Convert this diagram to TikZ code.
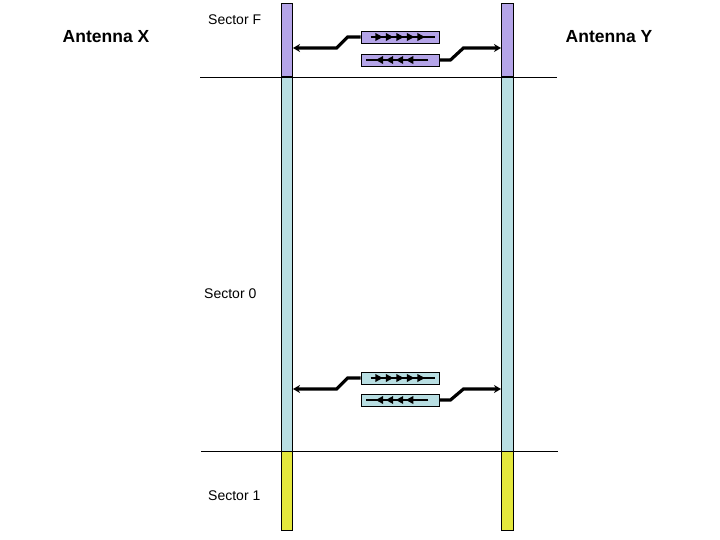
\documentclass[tikz,border=0pt]{standalone}
\usepackage{fontspec}
\setmainfont{Liberation Sans}
\usetikzlibrary{arrows.meta,decorations.markings}
\definecolor{purp}{RGB}{180,164,232}
\definecolor{lblue}{RGB}{184,222,226}
\definecolor{yel}{RGB}{228,232,60}
\tikzset{
  barseg/.style={draw=black,line width=1pt,inner sep=0pt,minimum width=11.5pt,rectangle},
  msgbox/.style={draw=black,line width=0.9pt,inner sep=0pt,minimum width=78pt,minimum height=12pt,rectangle},
  conn/.style={line width=3.2pt,-{Stealth[length=7pt,width=8pt]}},
  sepline/.style={line width=0.8pt},
  fwdline/.style={line width=1.8pt,postaction={decorate},decoration={markings,
     mark=between positions 0.19 and 1 step 0.162 with {\arrow{Triangle[length=7.5pt,width=7.5pt]}}}},
  bwdline/.style={line width=1.8pt,postaction={decorate},decoration={markings,
     mark=between positions 0.36 and 1 step 0.16 with {\arrow{Triangle[length=7.5pt,width=7.5pt]}}}},
  antlabel/.style={font=\bfseries\fontsize{17.5}{20}\selectfont,inner sep=0pt},
  seclabel/.style={font=\fontsize{14}{16}\selectfont,inner sep=0pt,anchor=west}
}
\begin{document}
\begin{tikzpicture}[x=1pt,y=-1pt]
\useasboundingbox (0,0) rectangle (720,540);
% bars
\node[barseg,fill=purp,minimum height=73pt] (xF) at (286.75,40.5) {};
\node[barseg,fill=lblue,minimum height=374pt] (x0) at (286.75,264) {};
\node[barseg,fill=yel,minimum height=79pt] (x1) at (286.75,490.5) {};
\node[barseg,fill=purp,minimum height=73pt] (yF) at (507.25,40.5) {};
\node[barseg,fill=lblue,minimum height=374pt] (y0) at (507.25,264) {};
\node[barseg,fill=yel,minimum height=79pt] (y1) at (507.25,490.5) {};
% separator lines
\coordinate (s1a) at (200,77);
\coordinate (s1b) at (557,77);
\coordinate (s2a) at (201,451);
\coordinate (s2b) at (558,451);
\draw[sepline] (s1a) -- (s1b);
\draw[sepline] (s2a) -- (s2b);
% labels
\node[antlabel] (antX) at (106,37) {Antenna X};
\node[antlabel] (antY) at (609,37) {Antenna Y};
\node[seclabel] (secF) at (208,20) {Sector F};
\node[seclabel] (sec0) at (204,294) {Sector 0};
\node[seclabel] (sec1) at (208,496) {Sector 1};
% top message boxes
\node[msgbox,fill=purp] (bF1) at (400,37) {};
\node[msgbox,fill=purp] (bF2) at (400,60) {};
\draw[fwdline] ([xshift=10pt]bF1.west) -- ([xshift=-4pt]bF1.east);
\draw[bwdline] ([xshift=-11pt]bF2.east) -- ([xshift=5pt]bF2.west);
\path (bF1.west) ++(-24,11) coordinate (kF1);
\path (bF2.east) ++(24,-12) coordinate (kF2);
\draw[conn] (bF1.west) -- ++(-13,0) -- (kF1) -- (kF1 -| xF.east);
\draw[conn] (bF2.east) -- ++(11,0) -- (kF2) -- (kF2 -| yF.west);
% bottom message boxes
\node[msgbox,fill=lblue] (b01) at (400,378) {};
\node[msgbox,fill=lblue] (b02) at (400,400) {};
\draw[fwdline] ([xshift=10pt]b01.west) -- ([xshift=-4pt]b01.east);
\draw[bwdline] ([xshift=-11pt]b02.east) -- ([xshift=5pt]b02.west);
\path (b01.west) ++(-24,11) coordinate (k01);
\path (b02.east) ++(24,-11) coordinate (k02);
\draw[conn] (b01.west) -- ++(-13,0) -- (k01) -- (k01 -| x0.east);
\draw[conn] (b02.east) -- ++(11,0) -- (k02) -- (k02 -| y0.west);
\end{tikzpicture}
\end{document}
